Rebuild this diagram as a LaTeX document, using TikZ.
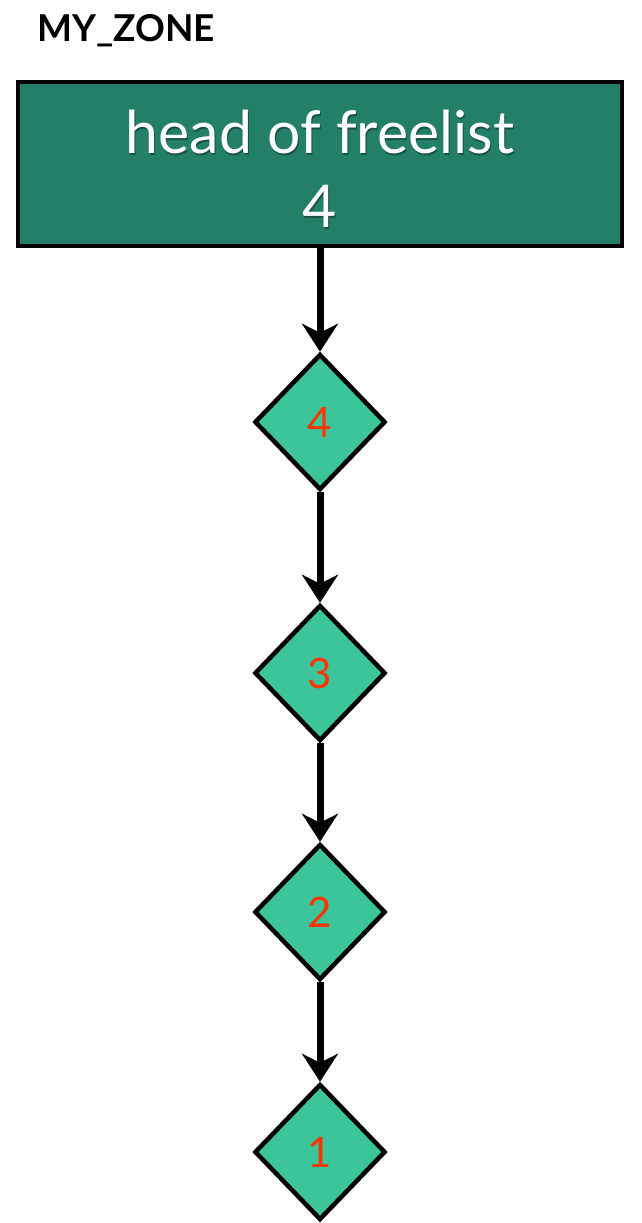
\documentclass[tikz,border=0pt]{standalone}
\usepackage{fontspec}
\setmainfont{Lato}
\usetikzlibrary{shapes.geometric,arrows.meta}
\definecolor{headfill}{HTML}{237F67}
\definecolor{cellfill}{HTML}{3CC49A}
\definecolor{cellnum}{HTML}{FF3300}
\tikzset{
  headbox/.style={draw=black, line width=4.5pt, fill=headfill,
    minimum width=604pt, minimum height=164pt, inner sep=0pt},
  headtext/.style={text=white, align=center, inner sep=0pt,
    font=\fontsize{59}{74}\selectfont},
  headshadow/.style={headtext, text=black, opacity=0.35},
  cell/.style={diamond, draw=black, line width=4.5pt, fill=cellfill,
    minimum width=131pt, minimum height=136pt, inner sep=0pt,
    text=cellnum, font=\fontsize{42}{44}\selectfont},
  link/.style={line width=7pt, -{Stealth[length=28pt, width=36pt, inset=9pt]}},
  title/.style={anchor=base west, inner sep=0pt, font=\bfseries\fontsize{37}{40}\selectfont}
}
\begin{document}
\begin{tikzpicture}[x=1pt, y=1pt]
  \useasboundingbox (0,0) rectangle (642,-1223);
  \node[title] (zone) at (37,-42) {MY\_ZONE};
  \node[headbox] (head) at (320,-164) {};
  \node[headshadow] (headsh) at ([xshift=1pt, yshift=-7pt]head.center) {head of freelist\\4};
  \node[headtext] (headlabel) at ([yshift=-5pt]head.center) {head of freelist\\4};
  \node[cell] (c4) at (320,-422) {4};
  \node[cell] (c3) at (320,-673) {3};
  \node[cell] (c2) at (320,-912) {2};
  \node[cell] (c1) at (320,-1152) {1};
  \draw[link] (head.south) -- (c4.north);
  \draw[link] (c4.south) -- (c3.north);
  \draw[link] (c3.south) -- (c2.north);
  \draw[link] (c2.south) -- (c1.north);
\end{tikzpicture}
\end{document}
